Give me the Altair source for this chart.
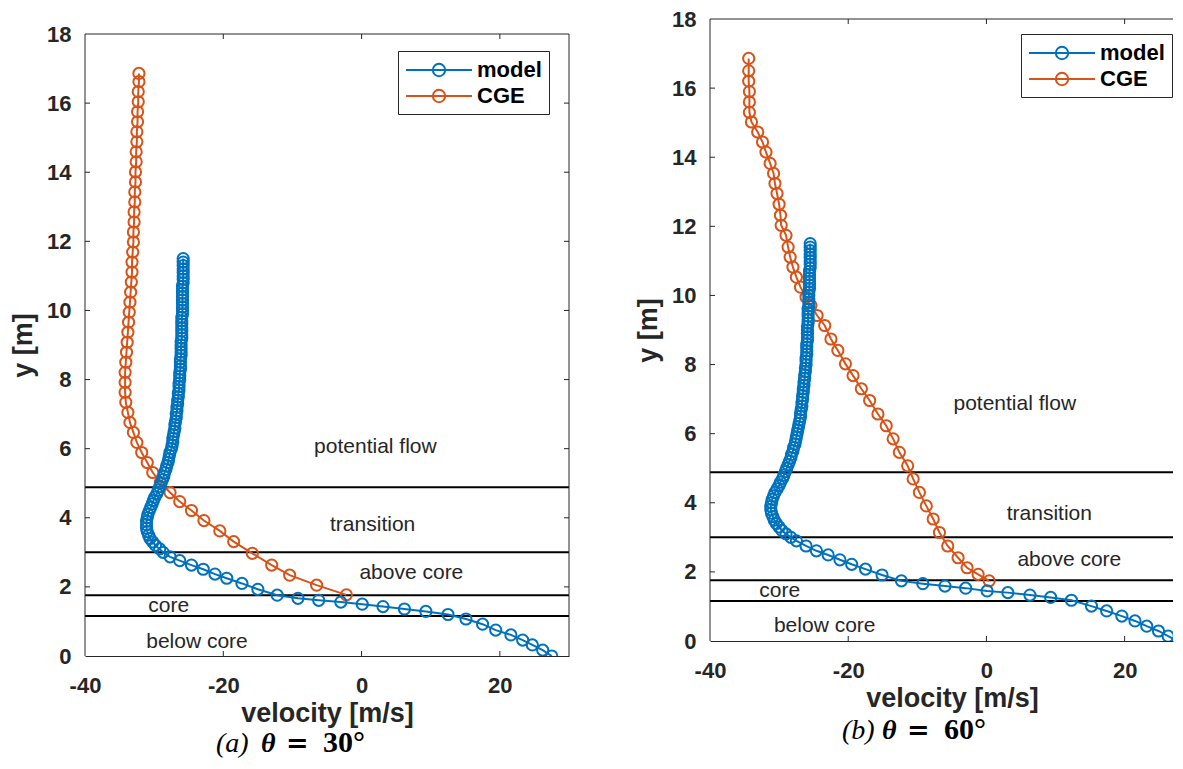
import altair as alt
import pandas as pd

SANS = "Liberation Sans"
SERIF = "Liberation Serif"
BLUE = "#0072BD"
ORANGE = "#D95319"
AXC = "#262626"

SERIES = ["model", "CGE"]
X_TICKS = [-40, -20, 0, 20]
Y_TICKS = [0, 2, 4, 6, 8, 10, 12, 14, 16, 18]
INNER_X_TICKS = [-20, 0, 20]
INNER_Y_TICKS = [2, 4, 6, 8, 10, 12, 14, 16]
REGION_LINES = [4.88, 3.0, 1.76, 1.16]
REGION_NAMES = ["potential flow", "transition", "above core", "core", "below core"]

# ---- panel (a): theta = 30 deg ----
A_MODEL_LOW_V = [27.5, 26.2, 24.7, 23.3, 21.6, 19.4, 17.5, 15.1, 12.5, 9.3, 6.2, 3.1, 0.1,
                 -3.0, -6.2, -9.2, -12.2, -15.0, -17.3, -19.5, -21.2, -22.9, -24.6, -26.3, -27.7]
A_MODEL_LOW_Y = [0.0, 0.17, 0.32, 0.46, 0.61, 0.75, 0.92, 1.07, 1.2, 1.29, 1.36, 1.43, 1.5,
                 1.56, 1.61, 1.67, 1.76, 1.93, 2.1, 2.25, 2.37, 2.51, 2.63, 2.76, 2.87]
DENSE_Y = [3.0, 3.1, 3.2, 3.3, 3.4, 3.5, 3.6, 3.7, 3.8, 3.9, 4.0, 4.1, 4.2, 4.3, 4.4, 4.5, 4.6,
           4.7, 4.8, 4.9, 5.0, 5.1, 5.2, 5.3, 5.4, 5.5, 5.6, 5.7, 5.8, 5.9, 6.0, 6.1, 6.2, 6.3,
           6.4, 6.5, 6.6, 6.7, 6.8, 6.9, 7.0, 7.1, 7.2, 7.3, 7.4, 7.5, 7.6, 7.7, 7.8, 7.9, 8.0,
           8.1, 8.2, 8.3, 8.4, 8.5, 8.6, 8.7, 8.8, 8.9, 9.0, 9.1, 9.2, 9.3, 9.4, 9.5, 9.6, 9.7,
           9.8, 9.9, 10.0, 10.1, 10.2, 10.3, 10.4, 10.5, 10.6, 10.7, 10.8, 10.9, 11.0, 11.1,
           11.2, 11.3, 11.4, 11.5]
A_MODEL_DENSE_V = [-28.7, -29.2, -29.8, -30.2, -30.6, -30.8, -31.0, -31.1, -31.1, -31.1, -31.0,
                   -30.9, -30.7, -30.5, -30.3, -30.1, -29.9, -29.6, -29.4, -29.2, -29.0, -28.8,
                   -28.6, -28.5, -28.3, -28.2, -28.0, -27.9, -27.8, -27.7, -27.5, -27.4, -27.3,
                   -27.3, -27.2, -27.1, -27.0, -27.0, -26.9, -26.8, -26.8, -26.7, -26.7, -26.6,
                   -26.6, -26.5, -26.5, -26.4, -26.4, -26.4, -26.3, -26.3, -26.3, -26.2, -26.2,
                   -26.2, -26.2, -26.1, -26.1, -26.1, -26.1, -26.1, -26.0, -26.0, -26.0, -26.0,
                   -26.0, -26.0, -26.0, -25.9, -25.9, -25.9, -25.9, -25.9, -25.9, -25.9, -25.9,
                   -25.9, -25.8, -25.8, -25.8, -25.8, -25.8, -25.8, -25.8, -25.8]
A_CGE_V = [-2.2, -6.5, -10.4, -13.0, -15.8, -18.5, -20.5, -22.8, -24.6, -26.3, -27.7, -29.1,
           -30.2, -31.0, -31.8, -32.5, -33.0, -33.5, -33.8, -34.1, -34.2, -34.2, -34.2, -34.1,
           -34.0, -33.9, -33.8, -33.7, -33.6, -33.5, -33.4, -33.3, -33.2, -33.2, -33.1, -33.0,
           -33.0, -32.9, -32.9, -32.8, -32.8, -32.7, -32.7, -32.6, -32.6, -32.5, -32.5, -32.4,
           -32.4, -32.3, -32.3, -32.2, -32.2]
A_CGE_Y = [1.77, 2.05, 2.34, 2.63, 2.97, 3.31, 3.62, 3.92, 4.21, 4.47, 4.73, 5.02, 5.31, 5.6,
           5.89, 6.18, 6.47, 6.76, 7.05, 7.34, 7.63, 7.92, 8.21, 8.5, 8.79, 9.08, 9.37, 9.66,
           9.95, 10.24, 10.53, 10.82, 11.11, 11.4, 11.69, 11.98, 12.27, 12.56, 12.85, 13.14,
           13.43, 13.72, 14.01, 14.3, 14.59, 14.88, 15.17, 15.46, 15.75, 16.04, 16.33, 16.62,
           16.86]
A_REGION_V = [2.0, 1.6, 7.2, -27.9, -23.8]
A_REGION_Y = [6.05, 3.79, 2.40, 1.45, 0.41]
CAPTION_A = ["(a)", "θ", "=", "30°"]

# ---- panel (b): theta = 60 deg ----
B_MODEL_LOW_V = [27.7, 26.3, 24.9, 23.2, 21.5, 19.6, 17.4, 15.2, 12.3, 9.3, 6.3, 3.1, 0.1,
                 -3.0, -6.0, -9.2, -12.3, -15.1, -17.5, -19.5, -21.2, -22.9, -24.6, -26.1, -27.5]
B_MODEL_LOW_Y = [0.0, 0.14, 0.29, 0.43, 0.58, 0.72, 0.87, 1.01, 1.18, 1.26, 1.33, 1.4, 1.45,
                 1.53, 1.59, 1.66, 1.74, 1.91, 2.08, 2.22, 2.35, 2.49, 2.61, 2.75, 2.9]
B_MODEL_DENSE_V = [-28.3, -29.0, -29.6, -30.0, -30.4, -30.7, -30.9, -31.1, -31.2, -31.2, -31.1,
                   -31.0, -30.8, -30.6, -30.3, -30.0, -29.8, -29.5, -29.3, -29.1, -28.9, -28.7,
                   -28.5, -28.3, -28.2, -28.0, -27.9, -27.7, -27.6, -27.5, -27.4, -27.3, -27.2,
                   -27.1, -27.0, -26.9, -26.9, -26.8, -26.7, -26.7, -26.6, -26.6, -26.5, -26.5,
                   -26.4, -26.4, -26.3, -26.3, -26.2, -26.2, -26.1, -26.1, -26.1, -26.0, -26.0,
                   -26.0, -26.0, -25.9, -25.9, -25.9, -25.9, -25.9, -25.8, -25.8, -25.8, -25.8,
                   -25.8, -25.7, -25.7, -25.7, -25.7, -25.7, -25.6, -25.6, -25.6, -25.6, -25.6,
                   -25.6, -25.5, -25.5, -25.5, -25.5, -25.5, -25.5, -25.5, -25.5]
B_CGE_V = [0.4, -1.2, -2.8, -4.1, -5.6, -6.8, -7.7, -8.7, -9.7, -10.6, -11.4, -12.6, -13.5,
           -14.5, -15.7, -16.9, -18.1, -19.3, -20.4, -21.5, -22.5, -23.4, -24.5, -25.4, -26.1,
           -26.9, -27.5, -28.0, -28.4, -28.7, -29.0, -29.7, -29.8, -30.0, -30.3, -30.6, -30.8,
           -31.3, -31.9, -32.4, -33.1, -34.0, -34.3, -34.3, -34.3, -34.4, -34.4, -34.4]
B_CGE_Y = [1.74, 1.93, 2.12, 2.41, 2.75, 3.14, 3.53, 3.91, 4.3, 4.69, 5.07, 5.46, 5.85, 6.23,
           6.57, 6.96, 7.3, 7.68, 8.02, 8.41, 8.74, 9.13, 9.42, 9.71, 9.95, 10.24, 10.53,
           10.82, 11.11, 11.4, 11.74, 12.03, 12.32, 12.64, 12.95, 13.24, 13.53, 13.82, 14.15,
           14.44, 14.73, 15.02, 15.3, 15.6, 15.9, 16.2, 16.5, 16.86]
B_REGION_V = [4.1, 9.1, 12.0, -29.9, -23.4]
B_REGION_Y = [6.87, 3.68, 2.35, 1.45, 0.43]
CAPTION_B = ["(b)", "θ", "=", "60°"]

H = 622          # height of the 0..18 m span in px
YTOP = 18
# legend glyph: line through an open circle (unit = 11 px at symbolSize 484)
LEGEND_PATH = ("M-1,0L5,0M2.56,0A0.56,0.56,0,1,1,1.44,0"
               "A0.56,0.56,0,1,1,2.56,0")


def panel(model_v, model_y, cge_v, cge_y, reg_v, reg_y, caption, xmax, width,
          cap_x, cap_dy, leg_x, leg_y, right_frame, extra):
    df = pd.DataFrame({
        "v": model_v + cge_v,
        "y": model_y + cge_y,
        "series": ["model"] * len(model_v) + ["CGE"] * len(cge_v),
        "idx": list(range(len(model_v))) + list(range(len(cge_v))),
    })
    total_h = H + extra
    ymax = YTOP * total_h / H
    xs = alt.Scale(domain=[-40, xmax], nice=False, zero=False)
    ys = alt.Scale(domain=[0, ymax], nice=False, zero=False)
    xaxis = alt.Axis(values=X_TICKS, labelExpr="'' + datum.value", labelPadding=19,
                     title="velocity [m/s]", titlePadding=4, titleX=242)
    yaxis = alt.Axis(values=Y_TICKS, labelPadding=14, title="y [m]", titlePadding=9,
                     domain=False, titleY=extra + H / 2)
    color = alt.Color(
        "series:N",
        scale=alt.Scale(domain=SERIES, range=[BLUE, ORANGE]),
        legend=alt.Legend(
            title=None, orient="none", legendX=leg_x, legendY=leg_y + extra,
            symbolType=LEGEND_PATH, symbolSize=484, symbolStrokeWidth=2,
            symbolFillColor="transparent", labelFont=SANS, labelFontSize=22,
            labelFontWeight="bold", labelColor="black", labelOffset=48,
            padding=7, rowPadding=3, strokeColor=AXC, fillColor="white",
        ),
    )
    base = alt.Chart(df).encode(
        x=alt.X("v:Q", scale=xs, axis=xaxis),
        y=alt.Y("y:Q", scale=ys, axis=yaxis),
        color=color,
        detail="series:N",
        order=alt.Order("idx:Q"),
    )
    lines = base.mark_line(strokeWidth=2, clip=True)
    points = base.mark_point(shape="circle", filled=False, size=125, strokeWidth=2,
                             opacity=1, clip=True)

    def X(field):
        return alt.X(field, scale=xs, axis=xaxis)

    def Y(field):
        return alt.Y(field, scale=ys, axis=yaxis)

    reg_df = pd.DataFrame({"yy": REGION_LINES, "x0": [-40] * 4, "x1": [xmax] * 4})
    regions = alt.Chart(reg_df).mark_rule(color="black", strokeWidth=2).encode(
        x=X("x0:Q"), x2="x1:Q", y=Y("yy:Q"))

    top_df = pd.DataFrame({"x0": [-40], "x1": [xmax], "yy": [YTOP]})
    top = alt.Chart(top_df).mark_rule(color=AXC, strokeWidth=1).encode(
        x=X("x0:Q"), x2="x1:Q", y=Y("yy:Q"))
    lf_df = pd.DataFrame({"v": [-40], "y0": [0], "y1": [YTOP]})
    leftb = alt.Chart(lf_df).mark_rule(color=AXC, strokeWidth=1).encode(
        x=X("v:Q"), y=Y("y0:Q"), y2="y1:Q")

    xt = pd.DataFrame({"v": INNER_X_TICKS})
    yt = pd.DataFrame({"y": INNER_Y_TICKS})
    tb = alt.Chart(xt).mark_rule(color=AXC, strokeWidth=1).encode(
        x=X("v:Q"), y=alt.value(total_h), y2=alt.value(total_h - 5))
    tt = alt.Chart(xt).mark_rule(color=AXC, strokeWidth=1).encode(
        x=X("v:Q"), y=alt.value(extra), y2=alt.value(extra + 5))
    tl = alt.Chart(yt).mark_rule(color=AXC, strokeWidth=1).encode(
        y=Y("y:Q"), x=alt.value(0), x2=alt.value(5))

    lab_df = pd.DataFrame({"name": REGION_NAMES, "v": reg_v, "y": reg_y})
    labels = alt.Chart(lab_df).mark_text(font=SANS, fontSize=21, color=AXC).encode(
        x=X("v:Q"), y=Y("y:Q"), text="name:N")

    cap_layers = []
    styles = [("italic", "normal", SERIF, 28), ("italic", "bold", SERIF, 28),
              ("normal", "bold", "DejaVu Serif", 27), ("normal", "bold", SERIF, 30)]
    for txt, cx, (fs, fw, ff, fz) in zip(caption, cap_x, styles):
        cap_layers.append(
            alt.Chart(pd.DataFrame({"t": [txt]})).mark_text(
                align="left", baseline="alphabetic", font=ff, fontSize=fz,
                fontStyle=fs, fontWeight=fw, color="black").encode(
                x=alt.value(cx), y=alt.value(total_h + cap_dy), text="t:N"))

    layers = [regions, lines, points, top, leftb, tb, tt, tl, labels] + cap_layers
    if right_frame:
        rf = pd.DataFrame({"v": [xmax], "y0": [0], "y1": [YTOP]})
        layers.append(alt.Chart(rf).mark_rule(color=AXC, strokeWidth=1).encode(
            x=X("v:Q"), y=Y("y0:Q"), y2="y1:Q"))
        layers.append(alt.Chart(yt).mark_rule(color=AXC, strokeWidth=1).encode(
            y=Y("y:Q"), x=alt.value(width), x2=alt.value(width - 5)))
    return alt.layer(*layers).properties(width=width, height=total_h)


left = panel(A_MODEL_LOW_V + A_MODEL_DENSE_V, A_MODEL_LOW_Y + DENSE_Y, A_CGE_V, A_CGE_Y,
             A_REGION_V, A_REGION_Y, CAPTION_A, 30, 484, [131, 176, 201, 238], 96,
             313, 17, True, 15)
right = panel(B_MODEL_LOW_V + B_MODEL_DENSE_V, B_MODEL_LOW_Y + DENSE_Y, B_CGE_V, B_CGE_Y,
              B_REGION_V, B_REGION_Y, CAPTION_B, 27, 463, [132, 172, 197, 234], 98,
              311, 15, False, 0)

chart = alt.hconcat(left, right, spacing=64, padding={"left": 1, "top": 0, "right": 0, "bottom": 0}
).resolve_scale(color="independent").resolve_legend(color="independent").configure_view(
    strokeWidth=0
).configure_axis(
    labelFont=SANS, labelFontSize=22, labelFontWeight="bold", labelColor=AXC,
    titleFont=SANS, titleFontSize=27, titleFontWeight="bold", titleColor=AXC,
    grid=False, ticks=False, tickSize=0, domainColor=AXC, domainWidth=1, labelFlush=False,
).properties(background="white")

chart.save("out.html", embed_options={"renderer": "svg", "actions": False})
